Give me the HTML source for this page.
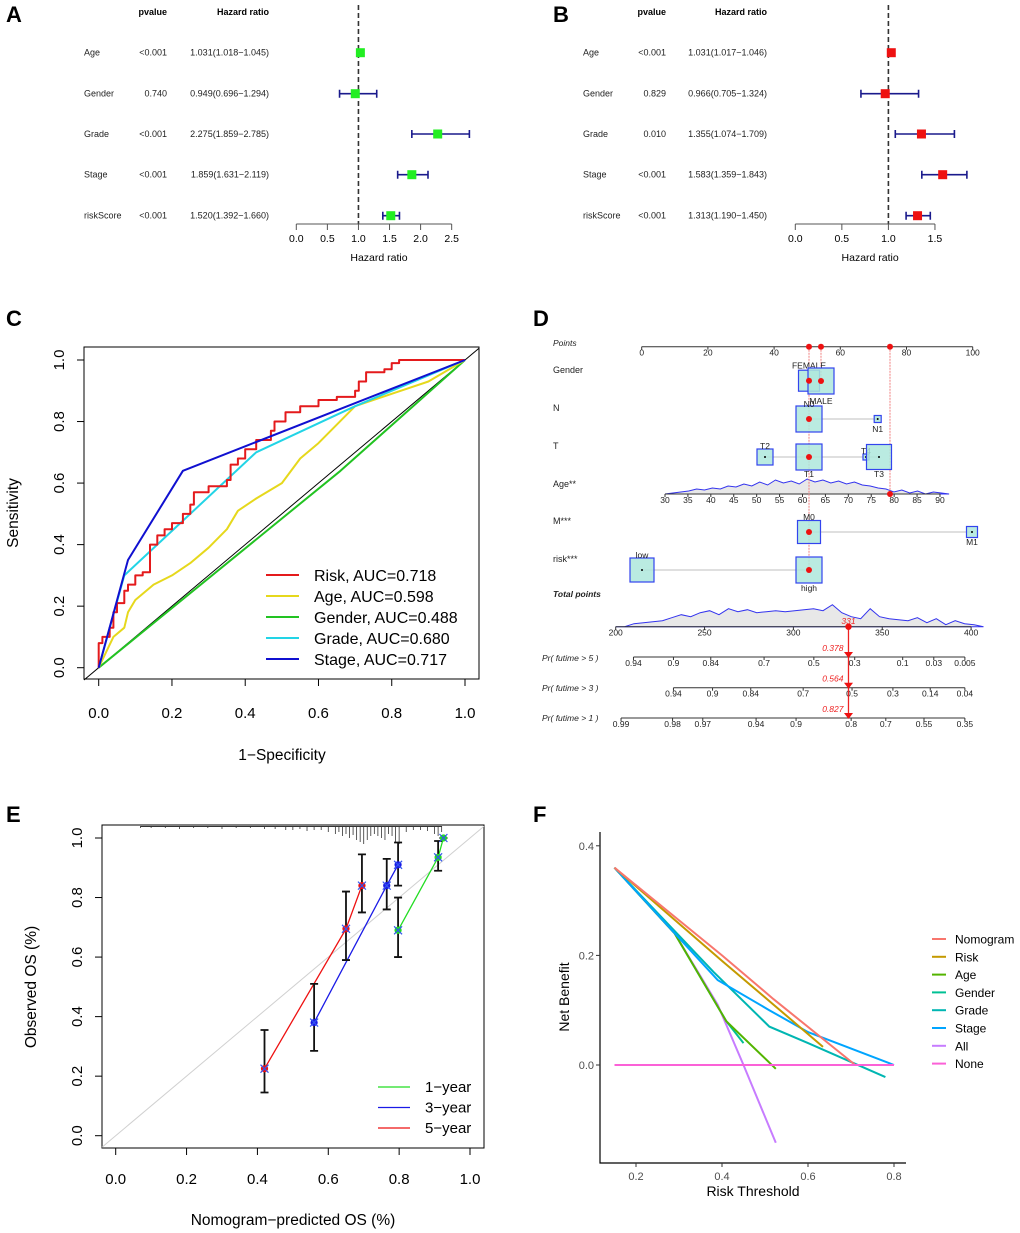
<!DOCTYPE html>
<html><head><meta charset="utf-8">
<style>
html,body{margin:0;padding:0;background:#fff;}
svg{display:block;font-family:"Liberation Sans",Arial,sans-serif;}
</style></head>
<body>
<svg id="fig" xmlns="http://www.w3.org/2000/svg" width="1020" height="1233" viewBox="0 0 1020 1233">
<rect x="0" y="0" width="1020" height="1233" fill="#fff"/>
<g font-weight="bold" font-size="22" fill="#000">
<text x="6" y="22">A</text>
<text x="553" y="22">B</text>
<text x="6" y="326">C</text>
<text x="533" y="326">D</text>
<text x="6" y="822">E</text>
<text x="533" y="822">F</text>
</g>
<g id="gA"></g>
<g id="gB"></g>
<g id="gC"></g>
<g id="gD"></g>
<g id="gE"></g>
<g id="gF"></g>
</svg>
<script>
// ---------- data ----------
const forestVars = ["Age","Gender","Grade","Stage","riskScore"];
const pvalA = ["<0.001","0.740","<0.001","<0.001","<0.001"];
const hrA = [1.031,0.949,2.275,1.859,1.520];
const loA = [1.018,0.696,1.859,1.631,1.392];
const hiA = [1.045,1.294,2.785,2.119,1.660];
const ticksA = [0,0.5,1.0,1.5,2.0,2.5];
const pvalB = ["<0.001","0.829","0.010","<0.001","<0.001"];
const hrB = [1.031,0.966,1.355,1.583,1.313];
const loB = [1.017,0.705,1.074,1.359,1.190];
const hiB = [1.046,1.324,1.709,1.843,1.450];
const ticksB = [0,0.5,1.0,1.5];

const rocNames = ["Risk","Age","Gender","Grade","Stage"];
const rocAUC = ["0.718","0.598","0.488","0.680","0.717"];
const rocColors = ["#e41a1c","#e6d81c","#22c322","#22d4e6","#1010d0"];
const rocRiskFPR = [0,0,0.01,0.03,0.04,0.05,0.07,0.08,0.1,0.12,0.14,0.14,0.16,0.18,0.2,0.23,0.25,0.26,0.3,0.35,0.36,0.38,0.4,0.43,0.47,0.48,0.51,0.55,0.6,0.65,0.7,0.71,0.73,0.78,0.8,0.82,1];
const rocRiskTPR = [0,0.08,0.1,0.13,0.18,0.21,0.25,0.27,0.3,0.31,0.32,0.4,0.43,0.45,0.47,0.5,0.53,0.57,0.59,0.61,0.66,0.68,0.71,0.74,0.77,0.8,0.83,0.85,0.87,0.88,0.9,0.93,0.96,0.97,0.99,1,1];
const rocAgeFPR = [0,0.02,0.04,0.07,0.08,0.1,0.15,0.2,0.25,0.3,0.35,0.38,0.43,0.5,0.55,0.6,0.7,0.8,0.9,1];
const rocAgeTPR = [0,0.05,0.1,0.13,0.18,0.22,0.27,0.3,0.34,0.39,0.45,0.51,0.55,0.6,0.68,0.73,0.85,0.89,0.93,1];
const rocGenderFPR = [0,0.66,1];
const rocGenderTPR = [0,0.64,1];
const rocGradeFPR = [0,0.07,0.43,0.7,1];
const rocGradeTPR = [0,0.3,0.7,0.85,1];
const rocStageFPR = [0,0.08,0.23,1];
const rocStageTPR = [0,0.35,0.64,1];
const ticksC = [0,0.2,0.4,0.6,0.8,1.0];

const calPred5 = [0.42,0.65,0.695];
const calObs5 = [0.225,0.695,0.84];
const calLo5 = [0.145,0.59,0.75];
const calHi5 = [0.355,0.82,0.945];
const calPred3 = [0.56,0.765,0.797];
const calObs3 = [0.38,0.84,0.91];
const calLo3 = [0.285,0.76,0.84];
const calHi3 = [0.51,0.93,0.985];
const calPred1 = [0.797,0.91,0.925];
const calObs1 = [0.69,0.935,1.0];
const calLo1 = [0.6,0.89,1.0];
const calHi1 = [0.8,0.99,1.0];
const rugPred = [0.07,0.1,0.14,0.18,0.22,0.26,0.3,0.34,0.38,0.42,0.45,0.48,0.5,0.52,0.54,0.56,0.58,0.6,0.62,0.63,0.64,0.65,0.66,0.67,0.68,0.69,0.7,0.71,0.72,0.73,0.74,0.75,0.76,0.77,0.78,0.79,0.8,0.82,0.84,0.86,0.88,0.9,0.91,0.92];
const rugLen = [2,2,2,3,2,2,3,2,2,3,3,4,4,3,5,4,4,6,8,6,10,8,12,9,14,16,18,14,10,8,10,12,14,8,10,16,18,6,4,4,5,8,10,6];
const ticksE = [0,0.2,0.4,0.6,0.8,1.0];

const dcaNames = ["Nomogram","Risk","Age","Gender","Grade","Stage","All","None"];
const dcaColors = ["#f8766d","#c49a00","#53b400","#00c094","#00b6b2","#00a5ff","#c77cff","#fb61d7"];
const dcaNomX = [0.15,0.4,0.52,0.71];
const dcaNomY = [0.36,0.2,0.12,0.0];
const dcaRiskX = [0.15,0.4,0.52,0.635];
const dcaRiskY = [0.36,0.19,0.11,0.033];
const dcaAgeX = [0.15,0.29,0.41,0.525];
const dcaAgeY = [0.36,0.24,0.08,-0.007];
const dcaGenderX = [0.15,0.29,0.41,0.45];
const dcaGenderY = [0.36,0.24,0.08,0.04];
const dcaGradeX = [0.15,0.38,0.51,0.6,0.78];
const dcaGradeY = [0.36,0.17,0.07,0.04,-0.022];
const dcaStageX = [0.15,0.39,0.51,0.6,0.8];
const dcaStageY = [0.36,0.155,0.1,0.06,0.0];
const dcaAllX = [0.15,0.29,0.39,0.45,0.525];
const dcaAllY = [0.36,0.24,0.11,0.0,-0.142];
const dcaNoneX = [0.15,0.8];
const dcaNoneY = [0,0];
const ticksFX = [0.2,0.4,0.6,0.8];
const ticksFY = [0.0,0.2,0.4];

const nomoPointTicks = [0,20,40,60,80,100];
const nomoAgeTicks = [30,35,40,45,50,55,60,65,70,75,80,85,90];
const nomoTotalTicks = [200,250,300,350,400];
const nomoTotal = 331;
const nomoPr5Labels = ["0.94","0.9","0.84","0.7","0.5","0.3","0.1","0.03","0.005"];
const nomoPr5Pts = [210,232.5,253.5,283.5,311.5,334.5,361.5,379,396.5];
const nomoPr3Labels = ["0.94","0.9","0.84","0.7","0.5","0.3","0.14","0.04"];
const nomoPr3Pts = [232.5,254.5,276,305.5,333,356,377,396.5];
const nomoPr1Labels = ["0.99","0.98","0.97","0.94","0.9","0.8","0.7","0.55","0.35"];
const nomoPr1Pts = [203,232,249,279,301.5,332.5,352,373.5,396.5];
const nomoProbs = ["0.378","0.564","0.827"];
const ageDensity = [0,1,2,3,5,4,6,5,8,7,10,8,12,9,14,11,13,10,15,12,14,11,13,10,12,9,8,6,5,2,4,1,3,0,2,1,0];
const totalDensity = [0,3,4,5,6,9,12,10,14,16,12,18,15,17,14,15,16,15,16,17,18,16,22,14,10,8,18,10,8,7,6,9,4,8,2,6,3,2,0];

const NS="http://www.w3.org/2000/svg";
function mk(tag, attrs, parent){const e=document.createElementNS(NS,tag);for(const k in attrs)e.setAttribute(k,attrs[k]);parent.appendChild(e);return e;}
function txt(s, attrs, parent){const e=mk("text",attrs,parent);e.textContent=s;return e;}
function pathD(xs,ys,sx,sy){return xs.map((v,i)=>(i?"L":"M")+sx(v).toFixed(1)+","+sy(ys[i]).toFixed(1)).join(" ");}

// ---------- Forest plots ----------
function forest(g, labX, pX, hrX, x0, scale, ticks, pv, hr, lo, hi, col, axEnd){
  const sx=v=>x0+v*scale;
  const rowY=[52.7,93.7,134,174.7,215.7];
  let h=txt("pvalue",{x:pX,y:15,"font-size":9,"font-weight":"bold","text-anchor":"end"},g);
  
  
  h=txt("Hazard ratio",{x:hrX,y:15,"font-size":9,"font-weight":"bold","text-anchor":"end"},g);
  
  
  let dl=mk("line",{x1:sx(1),x2:sx(1),y1:5,y2:224,stroke:"#333","stroke-width":1.6,"stroke-dasharray":"5,3"},g);
  
  
  forestVars.forEach((v,i)=>{
    const y=rowY[i];
    let t=txt(v,{x:labX,y:y+3,"font-size":9,fill:"#222"},g);
    
    
    t=txt(pv[i],{x:pX,y:y+3,"font-size":9,"text-anchor":"end",fill:"#222"},g);
    
    
    t=txt(hr[i].toFixed(3)+"("+lo[i].toFixed(3)+"\u2212"+hi[i].toFixed(3)+")",{x:hrX,y:y+3,"font-size":9,"text-anchor":"end",fill:"#222"},g);
    
    
    const ci=mk("path",{d:`M${sx(lo[i])},${y-4}V${y+4}M${sx(lo[i])},${y}H${sx(hi[i])}M${sx(hi[i])},${y-4}V${y+4}`,stroke:"#1a1a8c","stroke-width":1.6,fill:"none"},g);
    
    
    const b=mk("rect",{x:sx(hr[i])-4.5,y:y-4.5,width:9,height:9,fill:col},g);
    
    
  });
  const ax=mk("line",{x1:sx(0),x2:sx(axEnd),y1:224,y2:224,stroke:"#555","stroke-width":1},g);
  
  
  ticks.forEach(t=>{
    const tk=mk("line",{x1:sx(t),x2:sx(t),y1:224,y2:230,stroke:"#555"},g);
    
    
    const l=txt(t.toFixed(1),{x:sx(t),y:242,"font-size":10.5,"text-anchor":"middle"},g);
    
    
  });
  const tt=txt("Hazard ratio",{x:sx(axEnd/2)+5,y:261,"font-size":10.5,"text-anchor":"middle"},g);
  
  
}
forest(document.getElementById("gA"),84,167,269,296.3,62.15,ticksA,pvalA,hrA,loA,hiA,"#22ee22",2.5);
forest(document.getElementById("gB"),583,666,767,795.3,93.1,ticksB,pvalB,hrB,loB,hiB,"#ee1111",1.5);

// ---------- ROC ----------
(function(){
  const g=document.getElementById("gC");
  const sx=v=>98.7+v*366.3, sy=v=>667.7-v*307.7;
  const box=mk("rect",{x:84,y:347,width:395,height:332,fill:"none",stroke:"#000","stroke-width":1},g);
  
  
  const diag=mk("line",{x1:84,y1:sy((84-98.7)/366.3),x2:479,y2:sy((479-98.7)/366.3),stroke:"#000","stroke-width":1},g);
  
  
  ticksC.forEach(t=>{
    let k=mk("line",{x1:sx(t),x2:sx(t),y1:679,y2:686,stroke:"#000"},g);
    
    
    let l=txt(t.toFixed(1),{x:sx(t),y:718,"font-size":15,"text-anchor":"middle"},g);
    
    
    k=mk("line",{x1:77,x2:84,y1:sy(t),y2:sy(t),stroke:"#000"},g);
    
    
    l=txt(t.toFixed(1),{x:0,y:0,"font-size":15,"text-anchor":"middle",transform:`translate(64,${sy(t)}) rotate(-90)`},g);
    
    
  });
  let at=txt("1\u2212Specificity",{x:282,y:760,"font-size":15.5,"text-anchor":"middle"},g);
  
  
  at=txt("Sensitivity",{x:0,y:0,"font-size":15.5,"text-anchor":"middle",transform:"translate(18,513) rotate(-90)"},g);
  
  
  const series=[[rocGenderFPR,rocGenderTPR,2],[rocAgeFPR,rocAgeTPR,1],[rocGradeFPR,rocGradeTPR,3],[rocRiskFPR,rocRiskTPR,0],[rocStageFPR,rocStageTPR,4]];
  series.forEach(s=>{
    let d;
    if(s[2]===0){d="M"+sx(s[0][0])+","+sy(s[1][0]);for(let i=1;i<s[0].length;i++){d+=" H"+sx(s[0][i]).toFixed(1)+" V"+sy(s[1][i]).toFixed(1);}}
    else d=pathD(s[0],s[1],sx,sy);
    const p=mk("path",{d:d,fill:"none",stroke:rocColors[s[2]],"stroke-width":2,"stroke-linejoin":"round"},g);
    
    
  });
  rocNames.forEach((n,i)=>{
    const y=575+i*21;
    const l=mk("line",{x1:266,x2:299,y1:y,y2:y,stroke:rocColors[i],"stroke-width":2},g);
    
    
    const t=txt(n+", AUC="+rocAUC[i],{x:314,y:y+6,"font-size":16},g);
    
    
  });
})();

// ---------- Nomogram ----------
(function(){
  const g=document.getElementById("gD");
  const px=v=>641.7+v*3.31;
  const ax=v=>665+(v-30)*4.583;
  const tx=v=>615.7+(v-200)*1.777;
  function axisLine(x1,x2,y,name){const l=mk("line",{x1:x1,x2:x2,y1:y,y2:y,stroke:"#333","stroke-width":1},g);}
  function tick(x,y,lab,name){const k=mk("line",{x1:x,x2:x,y1:y,y2:y+3,stroke:"#333"},g);const t=txt(lab,{x:x,y:y+9,"font-size":8.5,"text-anchor":"middle",fill:"#222"},g);}
  function rowLabel(s,y,style){const t=txt(s,{x:553,y:y,"font-size":style?8.5:9,"font-style":style?"italic":"normal","font-weight":style==="b"?"bold":"normal",fill:"#222"},g);}
  rowLabel("Points",346,"i");
  rowLabel("Gender",373,null);rowLabel("N",411,null);rowLabel("T",449,null);rowLabel("Age**",487,null);rowLabel("M***",524,null);rowLabel("risk***",562,null);
  rowLabel("Total points",597,"b");
  const r5=txt("Pr( futime > 5 )",{x:542,y:661,"font-size":8.5,"font-style":"italic",fill:"#222"},g);
  const r3=txt("Pr( futime > 3 )",{x:542,y:691,"font-size":8.5,"font-style":"italic",fill:"#222"},g);
  const r1=txt("Pr( futime > 1 )",{x:542,y:721,"font-size":8.5,"font-style":"italic",fill:"#222"},g);
  // points axis
  axisLine(px(0),px(100),346.7,'points-axis');
  nomoPointTicks.forEach(v=>tick(px(v),346.7,String(v),'points'));
  // density age
  let d="M"+ax(30)+",494";
  ageDensity.forEach((h,i)=>{d+=" L"+(ax(30)+i*(ax(92)-ax(30))/(ageDensity.length-1)).toFixed(1)+","+(494-h).toFixed(1);});
  const ad=mk("path",{d:d+" Z",fill:"#e8e8e8",stroke:"#3333ee","stroke-width":1},g);
  
  
  axisLine(ax(30),ax(90),494,'age-axis');
  nomoAgeTicks.forEach(v=>tick(ax(v),494,String(v),'age'));
  // total density
  d="M"+tx(200)+",626.7";
  totalDensity.forEach((h,i)=>{d+=" L"+(tx(205)+i*(tx(407)-tx(205))/(totalDensity.length-1)).toFixed(1)+","+(626.7-h).toFixed(1);});
  const td=mk("path",{d:d+" Z",fill:"#e8e8e8",stroke:"#3333ee","stroke-width":1},g);
  
  
  axisLine(tx(200),tx(400),626.7,'total-points-axis');
  nomoTotalTicks.forEach(v=>tick(tx(v),626.7,String(v),'total-points'));
  // prob axes
  const prAxes=[[nomoPr5Labels,nomoPr5Pts,657],[nomoPr3Labels,nomoPr3Pts,687.7],[nomoPr1Labels,nomoPr1Pts,718]];
  prAxes.forEach((a,j)=>{
    axisLine(tx(a[1][0]),tx(a[1][a[1].length-1]),a[2],'probability-axis');
    a[0].forEach((l,i)=>tick(tx(a[1][i]),a[2],l,'probability'));
  });
  // gray connector lines
  function conn(x1,x2,y){const l=mk("line",{x1:x1,x2:x2,y1:y,y2:y,stroke:"#ccc","stroke-width":1.2},g);}
  conn(809,878,419);conn(765,879,457);conn(809,972,532);conn(642,809,570);
  // red dotted lines
  [[809,570],[821,381],[890,494]].forEach(a=>{const l=mk("line",{x1:a[0],x2:a[0],y1:346.7,y2:a[1],stroke:"#f08080","stroke-width":1,"stroke-dasharray":"2,1"},g);});
  // boxes
  const boxes=[[809,380.7,21,"FEMALE",-15],[821,381,26,"MALE",20],[809,419,26,"N0",-15],[877.7,419,7,"N1",10],[765,457,16,"T2",-11],[809,457,26,"T1",17],[866,457,6,"T4",-6],[879,457,25,"T3",17],[809,532,23,"M0",-15],[972,532,11,"M1",10],[642,570,24,"low",-15],[809,570,26,"high",18]];
  boxes.forEach(b=>{
    const r=mk("rect",{x:b[0]-b[2]/2,y:b[1]-b[2]/2,width:b[2],height:b[2],fill:"#aee8dc","fill-opacity":0.85,stroke:"#3344ee","stroke-width":1.2},g);
    
    
    const c=mk("circle",{cx:b[0],cy:b[1],r:1,fill:"#000"},g);
    
    
    const t=txt(b[3],{x:b[0],y:b[1]+b[4]+3,"font-size":8.5,"text-anchor":"middle",fill:"#222"},g);
    
    
  });
  // red dots
  [[809,346.7],[821,346.7],[890,346.7],[809,380.7],[821,381],[809,419],[809,457],[890,494],[809,532],[809,570]].forEach(p=>{const c=mk("circle",{cx:p[0],cy:p[1],r:3,fill:"#ee1111"},g);});
  const xt=tx(nomoTotal);
  const vl=mk("line",{x1:xt,x2:xt,y1:626.7,y2:718,stroke:"#ee2222","stroke-width":1.3},g);
  
  
  const td2=mk("circle",{cx:xt,cy:626.7,r:3.2,fill:"#ee1111"},g);
  
  
  const tl=txt(String(nomoTotal),{x:xt,y:624,"font-size":8.5,"font-style":"italic","text-anchor":"middle",fill:"#ee2222"},g);
  
  
  [657,687.7,718].forEach((y,i)=>{
    const tri=mk("path",{d:`M${xt-4.5},${y-5}L${xt+4.5},${y-5}L${xt},${y+1}Z`,fill:"#ee1111"},g);
    
    
    const t=txt(nomoProbs[i],{x:xt-5,y:y-6,"font-size":8.5,"font-style":"italic","text-anchor":"end",fill:"#ee2222"},g);
    
    
  });
})();

// ---------- Calibration ----------
(function(){
  const g=document.getElementById("gE");
  const sx=v=>115.7+v*354.3, sy=v=>1135.7-v*297.7;
  const box=mk("rect",{x:102,y:825,width:382,height:323,fill:"none",stroke:"#000","stroke-width":1},g);
  
  
  const diag=mk("line",{x1:102,y1:sy((102-115.7)/354.3),x2:484,y2:sy((484-115.7)/354.3),stroke:"#d0d0d0","stroke-width":1},g);
  
  
  rugPred.forEach((v,i)=>{const l=mk("line",{x1:sx(v),x2:sx(v),y1:826,y2:826+rugLen[i],stroke:"#333","stroke-width":0.8},g);});
  mk("line",{x1:sx(0.07),x2:sx(0.92),y1:826.5,y2:826.5,stroke:"#333","stroke-width":1},g);
  ticksE.forEach(t=>{
    let k=mk("line",{x1:sx(t),x2:sx(t),y1:1148,y2:1155,stroke:"#000"},g);
    
    
    let l=txt(t.toFixed(1),{x:sx(t),y:1184,"font-size":15,"text-anchor":"middle"},g);
    
    
    k=mk("line",{x1:95,x2:102,y1:sy(t),y2:sy(t),stroke:"#000"},g);
    
    
    l=txt(t.toFixed(1),{x:0,y:0,"font-size":15,"text-anchor":"middle",transform:`translate(82,${sy(t)}) rotate(-90)`},g);
    
    
  });
  let at=txt("Nomogram\u2212predicted OS (%)",{x:293,y:1225,"font-size":15.5,"text-anchor":"middle"},g);
  
  
  at=txt("Observed OS (%)",{x:0,y:0,"font-size":15.5,"text-anchor":"middle",transform:"translate(36,987) rotate(-90)"},g);
  
  
  const sets=[[calPred1,calObs1,calLo1,calHi1,"#22dd22","1-year"],[calPred3,calObs3,calLo3,calHi3,"#1a1ae6","3-year"],[calPred5,calObs5,calLo5,calHi5,"#ee1111","5-year"]];
  sets.forEach(s=>{
    const p=mk("path",{d:pathD(s[0],s[1],sx,sy),fill:"none",stroke:s[4],"stroke-width":1.3},g);
    
    
  });
  sets.forEach(s=>{
    s[0].forEach((v,i)=>{
      const x=sx(v);
      const e=mk("path",{d:`M${x},${sy(s[2][i])}V${sy(s[3][i])}M${x-4},${sy(s[2][i])}H${x+4}M${x-4},${sy(s[3][i])}H${x+4}`,stroke:"#111","stroke-width":1.8,fill:"none"},g);
      
      
      const c=mk("circle",{cx:x,cy:sy(s[1][i]),r:3.6,fill:s[4]},g);
      
      
      const xm=mk("path",{d:`M${x-4},${sy(s[1][i])-4}l8,8M${x+4},${sy(s[1][i])-4}l-8,8`,stroke:"#3355ee","stroke-width":1.2},g);
      
      
    });
  });
  sets.forEach((s,i)=>{
    const y=1087+i*20.5;
    const l=mk("line",{x1:378,x2:410,y1:y,y2:y,stroke:s[4],"stroke-width":1.3},g);
    
    
    const t=txt(s[5].replace("-","\u2212"),{x:425,y:y+5,"font-size":15},g);
    
    
  });
})();

// ---------- DCA ----------
(function(){
  const g=document.getElementById("gF");
  const sx=v=>636+(v-0.2)*430, sy=v=>1065-v*548;
  const axl=mk("path",{d:"M600,832V1163H906",fill:"none",stroke:"#000","stroke-width":1.2},g);
  
  
  ticksFX.forEach(t=>{
    const k=mk("line",{x1:sx(t),x2:sx(t),y1:1163,y2:1167,stroke:"#333"},g);
    
    
    const l=txt(t.toFixed(1),{x:sx(t),y:1180,"font-size":11,"text-anchor":"middle",fill:"#4d4d4d"},g);
    
    
  });
  ticksFY.forEach(t=>{
    const k=mk("line",{x1:596,x2:600,y1:sy(t),y2:sy(t),stroke:"#333"},g);
    
    
    const l=txt(t.toFixed(1),{x:594,y:sy(t)+4,"font-size":11,"text-anchor":"end",fill:"#4d4d4d"},g);
    
    
  });
  let at=txt("Risk Threshold",{x:753,y:1196,"font-size":14,"text-anchor":"middle"},g);
  
  
  at=txt("Net Benefit",{x:0,y:0,"font-size":14,"text-anchor":"middle",transform:"translate(569,997) rotate(-90)"},g);
  
  
  const ser=[[dcaGenderX,dcaGenderY,3],[dcaAllX,dcaAllY,6],[dcaAgeX,dcaAgeY,2],[dcaGradeX,dcaGradeY,4],[dcaStageX,dcaStageY,5],[dcaRiskX,dcaRiskY,1],[dcaNomX,dcaNomY,0],[dcaNoneX,dcaNoneY,7]];
  ser.forEach(s=>{
    const p=mk("path",{d:pathD(s[0],s[1],sx,sy),fill:"none",stroke:dcaColors[s[2]],"stroke-width":2},g);
    
    
  });
  dcaNames.forEach((n,i)=>{
    const y=939+i*17.8;
    const l=mk("line",{x1:932,x2:946,y1:y,y2:y,stroke:dcaColors[i],"stroke-width":2},g);
    
    
    const t=txt(n,{x:955,y:y+4.5,"font-size":12},g);
    
    
  });
})();
</script>
</body></html>
